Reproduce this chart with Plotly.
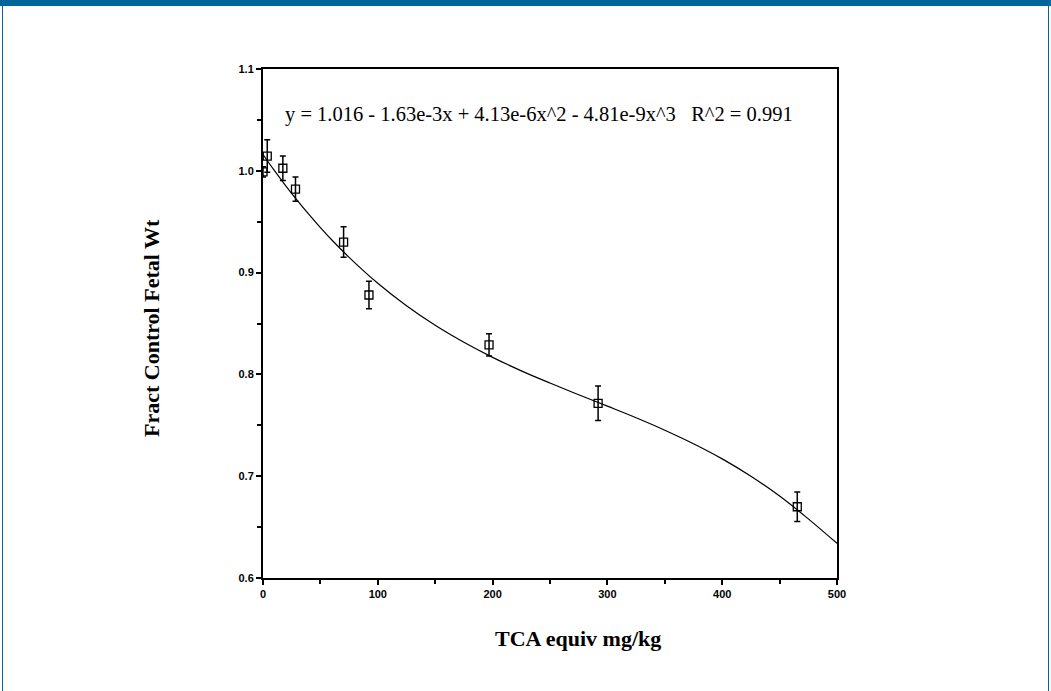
import plotly.graph_objects as go

dose = [0, 3.7, 17.3, 28.3, 70.2, 92.3, 196.9, 291.9, 465.4]
frac_wt = [0.999, 1.0145, 1.0025, 0.982, 0.930, 0.878, 0.829, 0.7716, 0.670]
err = [0.005, 0.016, 0.012, 0.012, 0.015, 0.0135, 0.011, 0.017, 0.0145]

# Fitted curve values
fit_x = [0, 10, 20, 30, 40, 50, 60, 75, 100, 125, 150, 175, 200, 225, 250,
         275, 300, 325, 350, 375, 400, 425, 450, 475, 500]
fit_y = [1.016, 1.0001, 0.9850, 0.9707, 0.9571, 0.9442, 0.9320, 0.9150, 0.8895,
         0.8674, 0.8482, 0.8315, 0.8167, 0.8035, 0.7915, 0.7800, 0.7688, 0.7574,
         0.7452, 0.7319, 0.7170, 0.7000, 0.6805, 0.6581, 0.6340]

x_ticks = [0, 100, 200, 300, 400, 500]
y_ticks = [0.6, 0.7, 0.8, 0.9, 1.0, 1.1]
equation = "y = 1.016 - 1.63e-3x + 4.13e-6x^2 - 4.81e-9x^3   R^2 = 0.991"

W, H = 1051, 691
L, R, T, B = 263, 214, 69, 113
pw, ph = W - L - R, H - T - B


def px(xp):
    return (xp - L) / pw


def py(yp):
    return (H - B - yp) / ph


fig = go.Figure()
fig.add_trace(go.Scatter(
    x=fit_x, y=fit_y, mode="lines",
    line=dict(color="black", width=1.2, shape="spline"),
    hoverinfo="skip", showlegend=False))
fig.add_trace(go.Scatter(
    x=dose, y=frac_wt, mode="markers",
    marker=dict(symbol="square-open", size=8, color="black", line=dict(width=1.3)),
    error_y=dict(type="data", array=err, visible=True, color="black",
                 thickness=1.5, width=3),
    showlegend=False))

axis_common = dict(
    showline=True, linecolor="black", linewidth=2, mirror=True,
    ticks="outside", ticklen=5, tickwidth=2, tickcolor="black",
    showgrid=False, zeroline=False,
    tickfont=dict(family="Liberation Sans", size=11, color="black", weight="bold"),
)

fig.update_xaxes(range=[0, 500], tickvals=x_ticks, ticktext=[str(v) for v in x_ticks],
                 minor=dict(ticks="outside", ticklen=4, tickwidth=1.5,
                            tickcolor="black", dtick=50, tick0=0),
                 **axis_common)
fig.update_yaxes(range=[0.6, 1.1], tickvals=y_ticks,
                 ticktext=[f"{v:.1f}" for v in y_ticks],
                 minor=dict(ticks="outside", ticklen=4, tickwidth=1.5,
                            tickcolor="black", dtick=0.05, tick0=0.6),
                 **axis_common)

serif = "Liberation Serif"
annotations = [
    dict(text=equation, x=px(283), y=py(114), xref="paper", yref="paper",
         xanchor="left", yanchor="middle", showarrow=False,
         font=dict(family=serif, size=20.5, color="black")),
    dict(text="<b>TCA equiv mg/kg</b>", x=px(578), y=py(638), xref="paper", yref="paper",
         xanchor="center", yanchor="middle", showarrow=False,
         font=dict(family=serif, size=22, color="black")),
    dict(text="<b>Fract Control Fetal Wt</b>", x=px(151), y=py(328), xref="paper", yref="paper",
         xanchor="center", yanchor="middle", showarrow=False, textangle=-90,
         font=dict(family=serif, size=22, color="black")),
]

blue = "#006699"
shapes = [
    dict(type="rect", xref="paper", yref="paper", x0=px(0), x1=px(W), y0=py(6), y1=py(0),
         fillcolor=blue, line=dict(width=0), layer="above"),
    dict(type="line", xref="paper", yref="paper", x0=px(2.5), x1=px(2.5), y0=py(H), y1=py(0),
         line=dict(color=blue, width=1)),
    dict(type="line", xref="paper", yref="paper", x0=px(1048.5), x1=px(1048.5), y0=py(H), y1=py(0),
         line=dict(color=blue, width=1)),
]

fig.update_layout(
    width=W, height=H, margin=dict(l=L, r=R, t=T, b=B),
    paper_bgcolor="white", plot_bgcolor="white",
    annotations=annotations, shapes=shapes, showlegend=False,
)

fig.write_html("out.html")
